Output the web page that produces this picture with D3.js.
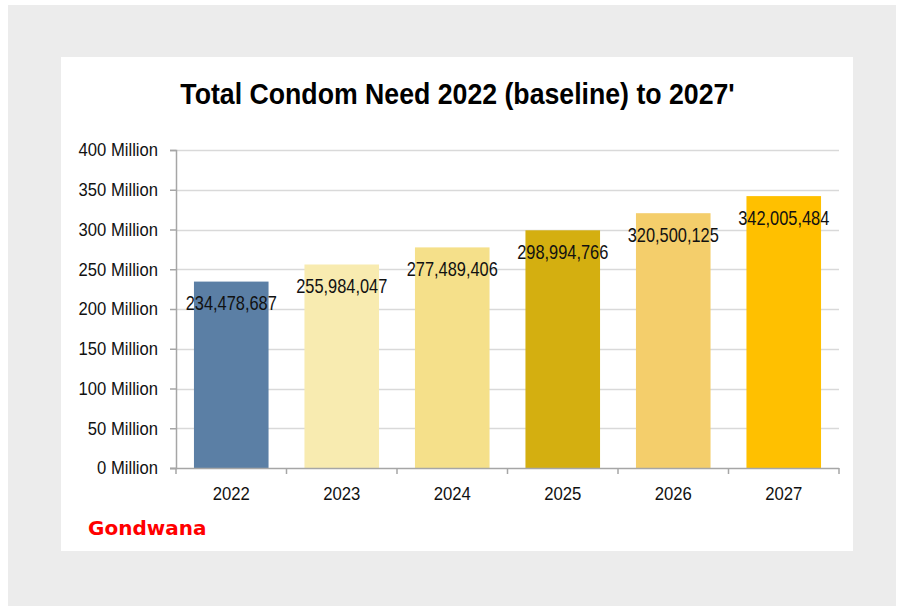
<!DOCTYPE html>
<html>
<head>
<meta charset="utf-8">
<script src="https://cdn.jsdelivr.net/npm/d3@7"></script>
<style>
  html, body { margin: 0; padding: 0; background: #ffffff; }
  svg { display: block; }
</style>
</head>
<body>
<svg id="chart" width="897" height="606"></svg>
<script>
// Total condom need by year
const years = ["2022", "2023", "2024", "2025", "2026", "2027"];
const needValues = [234478687, 255984047, 277489406, 298994766, 320500125, 342005484];
const barColors = ["#5b7fa5", "#f8ebb0", "#f5e08a", "#d4af10", "#f4ce6b", "#ffc000"];
const yTickValues = [0, 50e6, 100e6, 150e6, 200e6, 250e6, 300e6, 350e6, 400e6];

const svg = d3.select("#chart");
const sans = "'Liberation Sans', Arial, sans-serif";

// text placed at (x, y) and squeezed horizontally by sx to get a narrow face
function narrowText(parent, x, y, str, size, sx, anchor, weight) {
  return parent.append("text")
    .attr("transform", `translate(${x},${y}) scale(${sx},1)`)
    .attr("text-anchor", anchor || "start")
    .attr("font-family", sans)
    .attr("font-weight", weight || "normal")
    .attr("font-size", size)
    .attr("fill", "#111")
    .text(str);
}

// page background and white card
svg.append("rect").attr("x", 8).attr("y", 5).attr("width", 888).attr("height", 601).attr("fill", "#ececec");
svg.append("rect").attr("x", 61).attr("y", 57).attr("width", 792).attr("height", 494).attr("fill", "#ffffff");

// title
narrowText(svg, 457.5, 103.5, "Total Condom Need 2022 (baseline) to 2027'", 30, 0.89, "middle", "bold")
  .attr("fill", "#000");

const plot = { left: 176, right: 839, top: 150, bottom: 468 };

const x = d3.scaleBand()
  .domain(years)
  .range([plot.left, plot.right])
  .paddingInner(0.325)
  .paddingOuter(0.1625);

const y = d3.scaleLinear()
  .domain([0, 400e6])
  .range([plot.bottom, plot.top]);

// horizontal gridlines
svg.append("g")
  .selectAll("line")
  .data(yTickValues.filter(v => v > 0))
  .join("line")
  .attr("x1", plot.left).attr("x2", plot.right)
  .attr("y1", d => Math.round(y(d)) + 0.5).attr("y2", d => Math.round(y(d)) + 0.5)
  .attr("stroke", "#d9d9d9")
  .attr("stroke-width", 1.5);

// bars
svg.append("g")
  .selectAll("rect")
  .data(needValues)
  .join("rect")
  .attr("x", (d, i) => x(years[i]))
  .attr("y", d => y(d))
  .attr("width", x.bandwidth())
  .attr("height", d => plot.bottom - y(d))
  .attr("fill", (d, i) => barColors[i]);

// value labels just under the top of each bar
const valueLayer = svg.append("g");
needValues.forEach((v, i) => {
  narrowText(valueLayer, x(years[i]) + x.bandwidth() / 2, y(v) + 28.5, d3.format(",")(v), 20, 0.82, "middle");
});

// y axis: line and ticks from d3, labels drawn narrow
const yAxis = svg.append("g")
  .attr("transform", `translate(${plot.left},0)`)
  .call(d3.axisLeft(y)
    .tickValues(yTickValues)
    .tickSize(6)
    .tickFormat(""));
yAxis.select(".domain").attr("stroke", "#a6a6a6").attr("stroke-width", 1.5);
yAxis.selectAll(".tick line").attr("stroke", "#a6a6a6").attr("stroke-width", 1.5);
const yLabelLayer = svg.append("g");
yTickValues.forEach(v => {
  narrowText(yLabelLayer, 158, y(v) + 6.3, `${v / 1e6} Million`, 17.5, 0.95, "end");
});

// x axis with ticks on category boundaries
const xAxis = svg.append("g")
  .attr("transform", `translate(0,${plot.bottom})`);
xAxis.append("line")
  .attr("x1", plot.left - 6).attr("x2", plot.right)
  .attr("y1", 0.5).attr("y2", 0.5)
  .attr("stroke", "#a6a6a6").attr("stroke-width", 1.5);
const boundaries = years.map(yr => x(yr) - x.step() * x.paddingInner() / 2).concat([plot.right]);
boundaries[0] = plot.left;
xAxis.selectAll("line.tickmark")
  .data(boundaries)
  .join("line")
  .attr("class", "tickmark")
  .attr("x1", d => d).attr("x2", d => d)
  .attr("y1", 0).attr("y2", 6)
  .attr("stroke", "#a6a6a6").attr("stroke-width", 1.5);
years.forEach(yr => {
  narrowText(xAxis, x(yr) + x.bandwidth() / 2, 32, yr, 19, 0.88, "middle");
});

// source mark
svg.append("text")
  .attr("x", 88).attr("y", 535)
  .attr("font-family", "'DejaVu Sans', 'Noto Sans', sans-serif")
  .attr("font-weight", "bold")
  .attr("font-size", 20)
  .attr("fill", "#ff0000")
  .text("Gondwana");
</script>
</body>
</html>
